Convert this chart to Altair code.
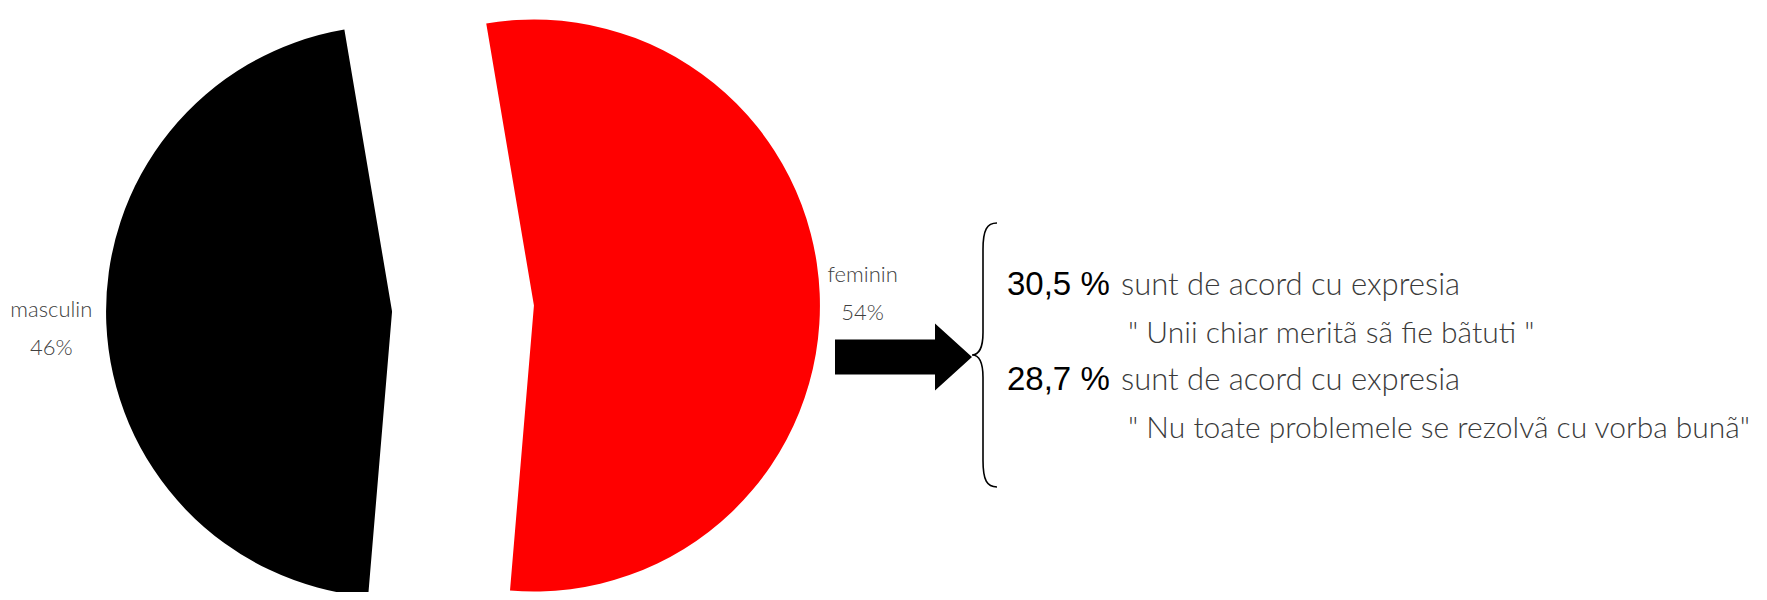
import math
import altair as alt
import pandas as pd

# ---- data ----
categories = ["feminin", "masculin"]
shares = [54, 46]
slice_colors = ["#FF0000", "#000000"]

stat_values = ["30,5 %", "28,7 %"]
stat_leads = ["sunt de acord cu expresia", "sunt de acord cu expresia"]
stat_quotes = ['" Unii chiar meritã sã fie bãtuti "',
               '" Nu toate problemele se rezolvã cu vorba bunã"']

# ---- layout / style ----
W, H = 1751, 584
CX, CY = 455, 300.5          # pie centre
R = 286                       # pie radius
EXPLODE = 71                  # slice explode distance
LABEL_R = 335                 # label distance from slice apex
START = -9.6 * math.pi / 180  # start angle of first slice
TWO_PI = 2 * math.pi
theta_range = [TWO_PI + START, 2 * TWO_PI + START]
TOTAL = sum(shares)

LIGHT_FONT = "Lato"
TEXT_GREY = "#3a3a3a"

pie_df = pd.DataFrame({"cat": categories, "share": shares,
                       "order": list(range(len(categories)))})

base = alt.Chart(pie_df).transform_window(
    t1="sum(share)", sort=[alt.SortField("order")], frame=[None, 0]
).transform_calculate(
    t0="datum.t1 - datum.share",
).transform_calculate(
    mid="(datum.t0 + datum.t1) / 2",
).transform_calculate(
    ang=f"{theta_range[0]} + datum.mid / {TOTAL} * {TWO_PI}",
).transform_calculate(
    px=f"{CX} + {EXPLODE} * sin(datum.ang)",
    py=f"{CY} - {EXPLODE} * cos(datum.ang)",
    label="datum.cat + '\\n' + datum.share + '%'",
)

theta_scale = alt.Scale(domain=[0, TOTAL], range=theta_range)

arcs = base.mark_arc(outerRadius=R).encode(
    theta=alt.Theta("t0:Q", scale=theta_scale),
    theta2="t1:Q",
    x=alt.X("px:Q", scale=None),
    y=alt.Y("py:Q", scale=None),
    color=alt.Color("cat:N", scale=alt.Scale(domain=categories, range=slice_colors), legend=None),
)

labels = base.mark_text(
    radius=LABEL_R, font=LIGHT_FONT, fontSize=22, fontWeight=300,
    color="#404040", lineHeight=38, lineBreak="\n", align="center", baseline="middle",
    dx=-6, dy=-16,
).encode(
    theta=alt.Theta("mid:Q", scale=theta_scale),
    x=alt.X("px:Q", scale=None),
    y=alt.Y("py:Q", scale=None),
    text="label:N",
)

# ---- arrow and brace annotations ----
ARROW_PATH = ("M-1,-0.255 L0.46,-0.255 L0.46,-0.49 L1,0 L0.46,0.49 "
              "L0.46,0.255 L-1,0.255 Z")
BRACE_PATH = ("M0.106,-1 C0.03,-1 0,-0.95 0,-0.8 L0,-0.17 C0,-0.06 -0.03,0 -0.083,0 "
              "C-0.03,0 0,0.06 0,0.17 L0,0.8 C0,0.95 0.03,1 0.106,1")

anno_df = pd.DataFrame({"k": [0]})
arrow = alt.Chart(anno_df).mark_point(
    shape=ARROW_PATH, size=137 ** 2, filled=True, color="black",
    opacity=1, strokeWidth=0,
).encode(x=alt.value(895.5), y=alt.value(349))

brace = alt.Chart(anno_df).mark_point(
    shape=BRACE_PATH, size=264 ** 2, filled=False, color="black",
    opacity=1, strokeWidth=1.6,
).encode(x=alt.value(975), y=alt.value(347))

# ---- statement texts ----
Y0, DY, DQ = 287, 95, 48
stats_df = pd.DataFrame({"value": stat_values, "lead": stat_leads,
                         "quote": stat_quotes, "row": [0, 1]})
stats = alt.Chart(stats_df).transform_calculate(
    yb=f"{Y0} + datum.row * {DY}",
    yq=f"{Y0} + datum.row * {DY} + {DQ}",
)

vals = stats.mark_text(
    align="left", baseline="alphabetic", font="Liberation Sans",
    fontSize=33, color="black",
).encode(x=alt.value(999), y=alt.Y("yb:Q", scale=None), text="value:N")

leads = stats.mark_text(
    align="left", baseline="alphabetic", font=LIGHT_FONT, fontWeight=300,
    fontSize=31, color=TEXT_GREY,
).encode(x=alt.value(1113), y=alt.Y("yb:Q", scale=None), text="lead:N")

quotes = stats.mark_text(
    align="left", baseline="alphabetic", font=LIGHT_FONT, fontWeight=300,
    fontSize=30, color=TEXT_GREY,
).encode(x=alt.value(1120), y=alt.Y("yq:Q", scale=None), text="quote:N")

chart = alt.layer(arcs, labels, arrow, brace, vals, leads, quotes).properties(
    width=W, height=H, padding=0,
    autosize=alt.AutoSizeParams(type="fit", contains="padding"),
    background="white",
).configure_view(stroke=None)

chart.save("out.html", embed_options={"renderer": "svg", "actions": False})
